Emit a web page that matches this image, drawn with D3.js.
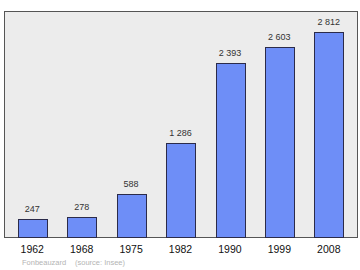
<!DOCTYPE html>
<html>
<head>
<meta charset="utf-8">
<script src="https://cdn.jsdelivr.net/npm/d3@7"></script>
<style>
  body { margin: 0; background: #fff; }
  svg { display: block; font-family: "Liberation Sans", Arial, sans-serif; }
</style>
</head>
<body>
<div id="chart"></div>
<script>
const years = ["1962", "1968", "1975", "1982", "1990", "1999", "2008"];
const population = [247, 278, 588, 1286, 2393, 2603, 2812];
const labels = ["247", "278", "588", "1 286", "2 393", "2 603", "2 812"];
const commune = "Fonbeauzard";
const source = "(source: Insee)";

const width = 360, height = 270;
const box = {left: 4, right: 357, top: 11, bottom: 237};

const svg = d3.select("#chart").append("svg")
    .attr("width", width)
    .attr("height", height);

const x = d3.scaleBand()
    .domain(years)
    .range([8, 353])
    .paddingInner(0.42)
    .paddingOuter(0.2);

const y = d3.scaleLinear()
    .domain([0, 3100])
    .range([box.bottom, box.top]);

// plot background
svg.append("rect")
    .attr("x", box.left + 0.5)
    .attr("y", box.top + 0.5)
    .attr("width", box.right - box.left)
    .attr("height", box.bottom - box.top)
    .attr("fill", "#ececec")
    .attr("stroke", "#555")
    .attr("stroke-width", 1);

svg.selectAll("rect.bar")
    .data(population)
    .join("rect")
    .attr("class", "bar")
    .attr("x", (d, i) => Math.round(x(years[i])) + 0.5)
    .attr("y", d => Math.round(y(d)) + 0.5)
    .attr("width", Math.round(x.bandwidth()))
    .attr("height", d => Math.round(y(0) - y(d)))
    .attr("fill", "#6e8ef7")
    .attr("stroke", "#2b2b4a")
    .attr("stroke-width", 1);

svg.selectAll("text.value")
    .data(population)
    .join("text")
    .attr("class", "value")
    .attr("x", (d, i) => x(years[i]) + x.bandwidth() / 2)
    .attr("y", d => y(d) - 7)
    .attr("text-anchor", "middle")
    .attr("font-size", "9px")
    .attr("fill", "#333")
    .text((d, i) => labels[i]);

// x axis labels
const xAxis = svg.append("g")
    .attr("transform", `translate(0,${box.bottom})`)
    .call(d3.axisBottom(x).tickSize(0).tickPadding(8.5));
xAxis.select(".domain").remove();
xAxis.selectAll("text")
    .attr("font-size", "10.5px")
    .attr("font-family", "Liberation Sans, Arial, sans-serif")
    .attr("fill", "#111");

svg.append("text")
    .attr("x", 22)
    .attr("y", 265)
    .attr("font-size", "7.5px")
    .attr("fill", "#b4b4b4")
    .text(commune);

svg.append("text")
    .attr("x", 75)
    .attr("y", 265)
    .attr("font-size", "7.5px")
    .attr("fill", "#b4b4b4")
    .text(source);
</script>
</body>
</html>
